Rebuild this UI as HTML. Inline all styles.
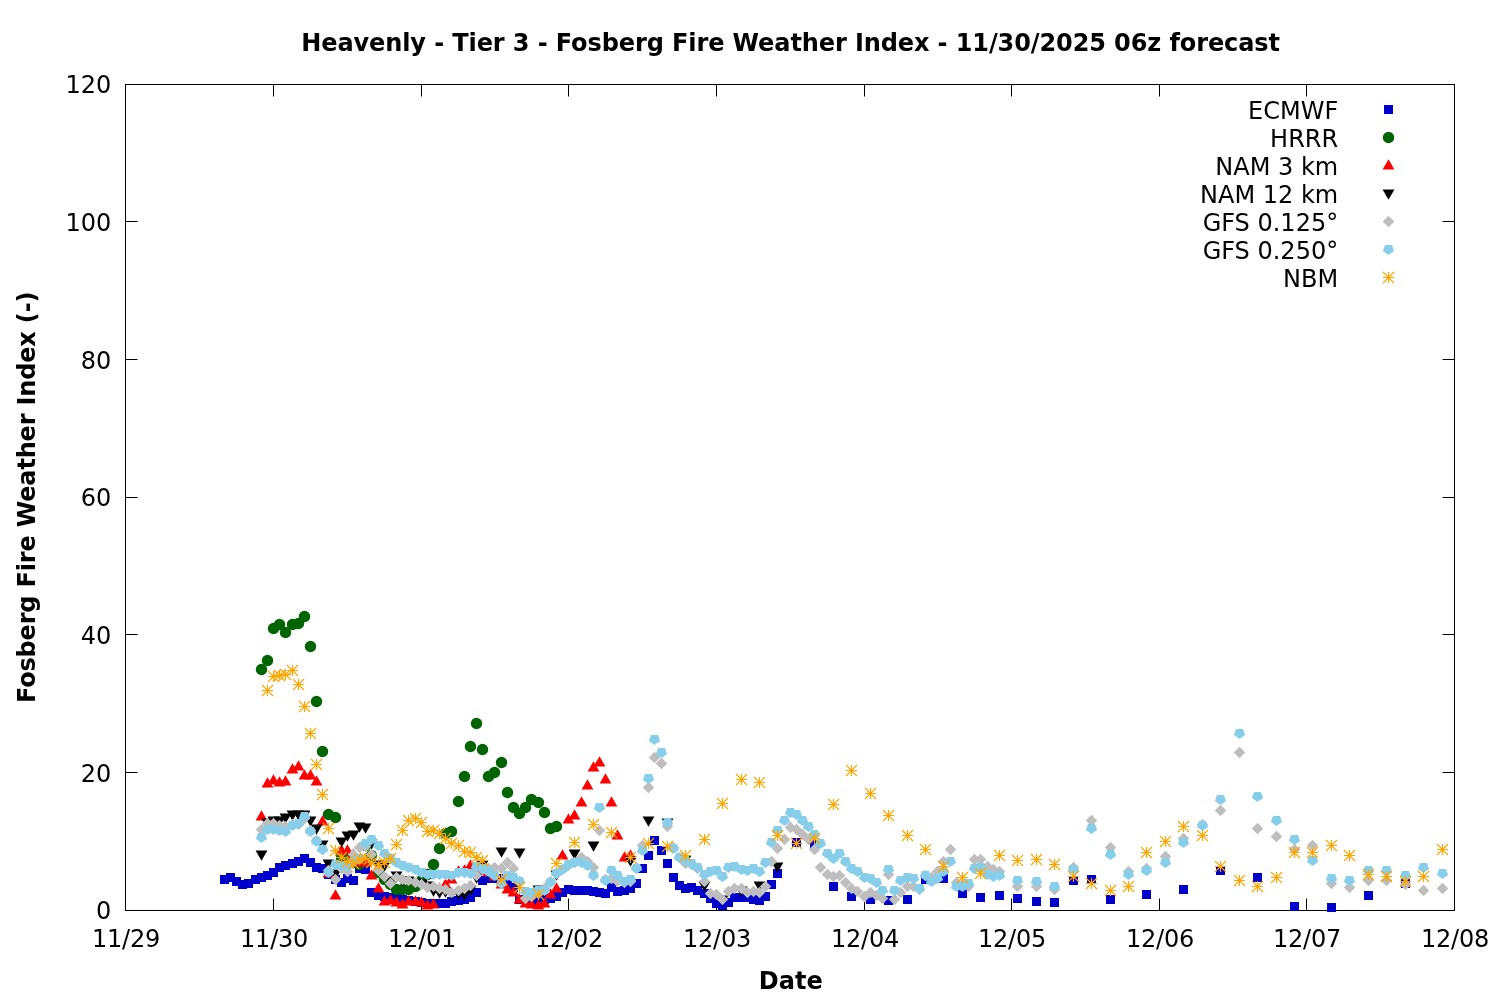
<!DOCTYPE html>
<html lang="en"><head><meta charset="utf-8"><title>Heavenly - Tier 3 - Fosberg Fire Weather Index</title>
<style>html,body{margin:0;padding:0;background:#fff;}svg{display:block;}text{font-family:"DejaVu Sans", "Liberation Sans", sans-serif;fill:#000;}</style>
</head><body>
<svg width="1500" height="1000" viewBox="0 0 1500 1000">
<rect width="1500" height="1000" fill="#fff"/>
<defs>
<rect id="m1" x="-4.5" y="-4.5" width="9" height="9" fill="#0000cd"/>
<circle id="m2" r="5.7" fill="#006400"/>
<path id="m3" d="M0,-6.2 L5.9,4 L-5.9,4 Z" fill="#ff0000"/>
<path id="m4" d="M0,6.2 L5.9,-4 L-5.9,-4 Z" fill="#000"/>
<path id="m5" d="M0,-5.75 L5.75,0 L0,5.75 L-5.75,0 Z" fill="#bebebe"/>
<path id="m6" d="M0,5.6 L5.6,1.6 L3.5,-4.6 L-3.5,-4.6 L-5.6,1.6 Z" fill="#87ceeb"/>
<path id="m7" d="M-5.5,0 H5.5 M0,-5.5 V5.5 M-5.5,-5.5 L5.5,5.5 M-5.5,5.5 L5.5,-5.5" stroke="#ffa500" stroke-width="1.15" fill="none"/>
</defs>
<g stroke="#000" stroke-width="1" fill="none" shape-rendering="auto">
<path d="M125.50,910.50 h12 M1454.50,910.50 h-12 M125.50,772.50 h12 M1454.50,772.50 h-12 M125.50,634.50 h12 M1454.50,634.50 h-12 M125.50,497.50 h12 M1454.50,497.50 h-12 M125.50,359.50 h12 M1454.50,359.50 h-12 M125.50,221.50 h12 M1454.50,221.50 h-12 M125.50,84.50 h12 M1454.50,84.50 h-12 M125.50,910.50 v-12 M125.50,84.50 v12 M273.50,910.50 v-12 M273.50,84.50 v12 M421.50,910.50 v-12 M421.50,84.50 v12 M568.50,910.50 v-12 M568.50,84.50 v12 M716.50,910.50 v-12 M716.50,84.50 v12 M864.50,910.50 v-12 M864.50,84.50 v12 M1011.50,910.50 v-12 M1011.50,84.50 v12 M1159.50,910.50 v-12 M1159.50,84.50 v12 M1306.50,910.50 v-12 M1306.50,84.50 v12 M1454.50,910.50 v-12 M1454.50,84.50 v12"/>
<rect x="125.50" y="84.50" width="1329.00" height="826.00"/>
</g>
<g id="plot">
<g>
<use href="#m1" x="224.5" y="879.5"/><use href="#m1" x="230.5" y="877.5"/><use href="#m1" x="236.5" y="881.5"/><use href="#m1" x="242.5" y="884.5"/><use href="#m1" x="248.5" y="883.5"/><use href="#m1" x="255.5" y="879.5"/><use href="#m1" x="261.5" y="877.5"/><use href="#m1" x="267.5" y="875.5"/><use href="#m1" x="273.5" y="872.5"/><use href="#m1" x="279.5" y="867.5"/><use href="#m1" x="285.5" y="865.5"/><use href="#m1" x="292.5" y="863.5"/><use href="#m1" x="298.5" y="861.5"/><use href="#m1" x="304.5" y="858.5"/><use href="#m1" x="310.5" y="862.5"/><use href="#m1" x="316.5" y="867.5"/><use href="#m1" x="322.5" y="868.5"/><use href="#m1" x="328.5" y="874.5"/><use href="#m1" x="335.5" y="879.5"/><use href="#m1" x="341.5" y="882.5"/><use href="#m1" x="347.5" y="878.5"/><use href="#m1" x="353.5" y="880.5"/><use href="#m1" x="359.5" y="868.5"/><use href="#m1" x="365.5" y="869.5"/><use href="#m1" x="371.5" y="892.5"/><use href="#m1" x="378.5" y="895.5"/><use href="#m1" x="384.5" y="896.5"/><use href="#m1" x="390.5" y="897.5"/><use href="#m1" x="396.5" y="898.5"/><use href="#m1" x="402.5" y="899.5"/><use href="#m1" x="408.5" y="900.5"/><use href="#m1" x="415.5" y="901.5"/><use href="#m1" x="421.5" y="902.5"/><use href="#m1" x="427.5" y="903.5"/><use href="#m1" x="433.5" y="903.5"/><use href="#m1" x="439.5" y="903.5"/><use href="#m1" x="445.5" y="903.5"/><use href="#m1" x="451.5" y="901.5"/><use href="#m1" x="458.5" y="900.5"/><use href="#m1" x="464.5" y="899.5"/><use href="#m1" x="470.5" y="897.5"/><use href="#m1" x="476.5" y="892.5"/><use href="#m1" x="482.5" y="880.5"/><use href="#m1" x="488.5" y="878.5"/><use href="#m1" x="494.5" y="878.5"/><use href="#m1" x="501.5" y="878.5"/><use href="#m1" x="507.5" y="883.5"/><use href="#m1" x="513.5" y="887.5"/><use href="#m1" x="519.5" y="899.5"/><use href="#m1" x="525.5" y="899.5"/><use href="#m1" x="531.5" y="899.5"/><use href="#m1" x="538.5" y="900.5"/><use href="#m1" x="544.5" y="899.5"/><use href="#m1" x="550.5" y="898.5"/><use href="#m1" x="556.5" y="896.5"/><use href="#m1" x="562.5" y="892.5"/><use href="#m1" x="568.5" y="889.5"/><use href="#m1" x="574.5" y="890.5"/><use href="#m1" x="581.5" y="890.5"/><use href="#m1" x="587.5" y="890.5"/><use href="#m1" x="593.5" y="891.5"/><use href="#m1" x="599.5" y="892.5"/><use href="#m1" x="605.5" y="893.5"/><use href="#m1" x="611.5" y="887.5"/><use href="#m1" x="617.5" y="891.5"/><use href="#m1" x="624.5" y="890.5"/><use href="#m1" x="630.5" y="888.5"/><use href="#m1" x="636.5" y="883.5"/><use href="#m1" x="642.5" y="868.5"/><use href="#m1" x="648.5" y="855.5"/><use href="#m1" x="654.5" y="840.5"/><use href="#m1" x="661.5" y="850.5"/><use href="#m1" x="667.5" y="863.5"/><use href="#m1" x="673.5" y="877.5"/><use href="#m1" x="679.5" y="885.5"/><use href="#m1" x="685.5" y="888.5"/><use href="#m1" x="691.5" y="887.5"/><use href="#m1" x="697.5" y="890.5"/><use href="#m1" x="704.5" y="893.5"/><use href="#m1" x="710.5" y="898.5"/><use href="#m1" x="716.5" y="903.5"/><use href="#m1" x="722.5" y="905.5"/><use href="#m1" x="728.5" y="902.5"/><use href="#m1" x="734.5" y="897.5"/><use href="#m1" x="741.5" y="897.5"/><use href="#m1" x="747.5" y="897.5"/><use href="#m1" x="753.5" y="899.5"/><use href="#m1" x="759.5" y="900.5"/><use href="#m1" x="765.5" y="896.5"/><use href="#m1" x="771.5" y="884.5"/><use href="#m1" x="777.5" y="873.5"/><use href="#m1" x="796.5" y="842.5"/><use href="#m1" x="814.5" y="844.5"/><use href="#m1" x="833.5" y="886.5"/><use href="#m1" x="851.5" y="896.5"/><use href="#m1" x="870.5" y="899.5"/><use href="#m1" x="888.5" y="900.5"/><use href="#m1" x="907.5" y="899.5"/><use href="#m1" x="925.5" y="879.5"/><use href="#m1" x="943.5" y="878.5"/><use href="#m1" x="962.5" y="893.5"/><use href="#m1" x="980.5" y="897.5"/><use href="#m1" x="999.5" y="895.5"/><use href="#m1" x="1017.5" y="898.5"/><use href="#m1" x="1036.5" y="901.5"/><use href="#m1" x="1054.5" y="902.5"/><use href="#m1" x="1073.5" y="880.5"/><use href="#m1" x="1091.5" y="879.5"/><use href="#m1" x="1110.5" y="899.5"/><use href="#m1" x="1146.5" y="894.5"/><use href="#m1" x="1183.5" y="889.5"/><use href="#m1" x="1220.5" y="870.5"/><use href="#m1" x="1257.5" y="877.5"/><use href="#m1" x="1294.5" y="906.5"/><use href="#m1" x="1331.5" y="907.5"/><use href="#m1" x="1368.5" y="895.5"/><use href="#m1" x="1405.5" y="883.5"/>
</g>
<g>
<use href="#m2" x="261.5" y="669.5"/><use href="#m2" x="267.5" y="660.5"/><use href="#m2" x="273.5" y="628.5"/><use href="#m2" x="279.5" y="624.5"/><use href="#m2" x="285.5" y="632.5"/><use href="#m2" x="292.5" y="624.5"/><use href="#m2" x="298.5" y="623.5"/><use href="#m2" x="304.5" y="616.5"/><use href="#m2" x="310.5" y="646.5"/><use href="#m2" x="316.5" y="701.5"/><use href="#m2" x="322.5" y="751.5"/><use href="#m2" x="328.5" y="814.5"/><use href="#m2" x="335.5" y="817.5"/><use href="#m2" x="341.5" y="857.5"/><use href="#m2" x="347.5" y="858.5"/><use href="#m2" x="353.5" y="862.5"/><use href="#m2" x="359.5" y="864.5"/><use href="#m2" x="365.5" y="845.5"/><use href="#m2" x="371.5" y="855.5"/><use href="#m2" x="378.5" y="872.5"/><use href="#m2" x="384.5" y="879.5"/><use href="#m2" x="390.5" y="884.5"/><use href="#m2" x="396.5" y="889.5"/><use href="#m2" x="402.5" y="889.5"/><use href="#m2" x="408.5" y="889.5"/><use href="#m2" x="415.5" y="886.5"/><use href="#m2" x="421.5" y="880.5"/><use href="#m2" x="427.5" y="874.5"/><use href="#m2" x="433.5" y="864.5"/><use href="#m2" x="439.5" y="848.5"/><use href="#m2" x="445.5" y="833.5"/><use href="#m2" x="451.5" y="831.5"/><use href="#m2" x="458.5" y="801.5"/><use href="#m2" x="464.5" y="776.5"/><use href="#m2" x="470.5" y="746.5"/><use href="#m2" x="476.5" y="723.5"/><use href="#m2" x="482.5" y="749.5"/><use href="#m2" x="488.5" y="776.5"/><use href="#m2" x="494.5" y="772.5"/><use href="#m2" x="501.5" y="762.5"/><use href="#m2" x="507.5" y="792.5"/><use href="#m2" x="513.5" y="807.5"/><use href="#m2" x="519.5" y="813.5"/><use href="#m2" x="525.5" y="807.5"/><use href="#m2" x="531.5" y="799.5"/><use href="#m2" x="538.5" y="802.5"/><use href="#m2" x="544.5" y="812.5"/><use href="#m2" x="550.5" y="828.5"/><use href="#m2" x="556.5" y="826.5"/>
</g>
<g>
<use href="#m3" x="261.5" y="816.5"/><use href="#m3" x="267.5" y="783.5"/><use href="#m3" x="273.5" y="780.5"/><use href="#m3" x="279.5" y="782.5"/><use href="#m3" x="285.5" y="781.5"/><use href="#m3" x="292.5" y="769.5"/><use href="#m3" x="298.5" y="766.5"/><use href="#m3" x="304.5" y="775.5"/><use href="#m3" x="310.5" y="775.5"/><use href="#m3" x="316.5" y="781.5"/><use href="#m3" x="322.5" y="821.5"/><use href="#m3" x="328.5" y="873.5"/><use href="#m3" x="335.5" y="895.5"/><use href="#m3" x="341.5" y="850.5"/><use href="#m3" x="347.5" y="850.5"/><use href="#m3" x="353.5" y="854.5"/><use href="#m3" x="359.5" y="862.5"/><use href="#m3" x="365.5" y="862.5"/><use href="#m3" x="371.5" y="875.5"/><use href="#m3" x="378.5" y="888.5"/><use href="#m3" x="384.5" y="901.5"/><use href="#m3" x="390.5" y="900.5"/><use href="#m3" x="396.5" y="902.5"/><use href="#m3" x="402.5" y="904.5"/><use href="#m3" x="408.5" y="901.5"/><use href="#m3" x="415.5" y="901.5"/><use href="#m3" x="421.5" y="902.5"/><use href="#m3" x="427.5" y="905.5"/><use href="#m3" x="433.5" y="904.5"/><use href="#m3" x="439.5" y="888.5"/><use href="#m3" x="445.5" y="884.5"/><use href="#m3" x="451.5" y="879.5"/><use href="#m3" x="458.5" y="871.5"/><use href="#m3" x="464.5" y="870.5"/><use href="#m3" x="470.5" y="865.5"/><use href="#m3" x="476.5" y="870.5"/><use href="#m3" x="482.5" y="871.5"/><use href="#m3" x="488.5" y="872.5"/><use href="#m3" x="494.5" y="876.5"/><use href="#m3" x="501.5" y="884.5"/><use href="#m3" x="507.5" y="889.5"/><use href="#m3" x="513.5" y="892.5"/><use href="#m3" x="519.5" y="899.5"/><use href="#m3" x="525.5" y="903.5"/><use href="#m3" x="531.5" y="904.5"/><use href="#m3" x="538.5" y="905.5"/><use href="#m3" x="544.5" y="903.5"/><use href="#m3" x="550.5" y="894.5"/><use href="#m3" x="556.5" y="888.5"/><use href="#m3" x="562.5" y="855.5"/><use href="#m3" x="568.5" y="819.5"/><use href="#m3" x="574.5" y="815.5"/><use href="#m3" x="581.5" y="802.5"/><use href="#m3" x="587.5" y="785.5"/><use href="#m3" x="593.5" y="767.5"/><use href="#m3" x="599.5" y="762.5"/><use href="#m3" x="605.5" y="779.5"/><use href="#m3" x="611.5" y="802.5"/><use href="#m3" x="617.5" y="835.5"/><use href="#m3" x="624.5" y="857.5"/><use href="#m3" x="630.5" y="855.5"/>
</g>
<g>
<use href="#m4" x="261.5" y="854.5"/><use href="#m4" x="267.5" y="822.5"/><use href="#m4" x="273.5" y="820.5"/><use href="#m4" x="279.5" y="820.5"/><use href="#m4" x="285.5" y="817.5"/><use href="#m4" x="292.5" y="814.5"/><use href="#m4" x="298.5" y="814.5"/><use href="#m4" x="304.5" y="814.5"/><use href="#m4" x="310.5" y="820.5"/><use href="#m4" x="316.5" y="828.5"/><use href="#m4" x="322.5" y="844.5"/><use href="#m4" x="328.5" y="863.5"/><use href="#m4" x="335.5" y="873.5"/><use href="#m4" x="341.5" y="841.5"/><use href="#m4" x="347.5" y="835.5"/><use href="#m4" x="353.5" y="834.5"/><use href="#m4" x="359.5" y="826.5"/><use href="#m4" x="365.5" y="827.5"/><use href="#m4" x="371.5" y="843.5"/><use href="#m4" x="378.5" y="864.5"/><use href="#m4" x="384.5" y="865.5"/><use href="#m4" x="390.5" y="880.5"/><use href="#m4" x="396.5" y="875.5"/><use href="#m4" x="402.5" y="880.5"/><use href="#m4" x="408.5" y="880.5"/><use href="#m4" x="415.5" y="882.5"/><use href="#m4" x="421.5" y="883.5"/><use href="#m4" x="427.5" y="885.5"/><use href="#m4" x="433.5" y="890.5"/><use href="#m4" x="439.5" y="892.5"/><use href="#m4" x="445.5" y="891.5"/><use href="#m4" x="451.5" y="893.5"/><use href="#m4" x="458.5" y="893.5"/><use href="#m4" x="464.5" y="894.5"/><use href="#m4" x="470.5" y="889.5"/><use href="#m4" x="476.5" y="877.5"/><use href="#m4" x="482.5" y="864.5"/><use href="#m4" x="501.5" y="851.5"/><use href="#m4" x="519.5" y="852.5"/><use href="#m4" x="538.5" y="889.5"/><use href="#m4" x="556.5" y="874.5"/><use href="#m4" x="574.5" y="853.5"/><use href="#m4" x="593.5" y="845.5"/><use href="#m4" x="630.5" y="860.5"/><use href="#m4" x="648.5" y="820.5"/><use href="#m4" x="667.5" y="822.5"/><use href="#m4" x="685.5" y="859.5"/><use href="#m4" x="704.5" y="885.5"/><use href="#m4" x="722.5" y="899.5"/><use href="#m4" x="741.5" y="890.5"/><use href="#m4" x="759.5" y="885.5"/><use href="#m4" x="777.5" y="866.5"/>
</g>
<g>
<use href="#m5" x="261.5" y="829.5"/><use href="#m5" x="267.5" y="823.5"/><use href="#m5" x="273.5" y="823.5"/><use href="#m5" x="279.5" y="825.5"/><use href="#m5" x="285.5" y="826.5"/><use href="#m5" x="292.5" y="824.5"/><use href="#m5" x="298.5" y="824.5"/><use href="#m5" x="304.5" y="818.5"/><use href="#m5" x="310.5" y="830.5"/><use href="#m5" x="316.5" y="840.5"/><use href="#m5" x="322.5" y="849.5"/><use href="#m5" x="328.5" y="870.5"/><use href="#m5" x="335.5" y="879.5"/><use href="#m5" x="341.5" y="868.5"/><use href="#m5" x="347.5" y="871.5"/><use href="#m5" x="353.5" y="854.5"/><use href="#m5" x="359.5" y="847.5"/><use href="#m5" x="365.5" y="846.5"/><use href="#m5" x="371.5" y="854.5"/><use href="#m5" x="378.5" y="870.5"/><use href="#m5" x="384.5" y="876.5"/><use href="#m5" x="390.5" y="883.5"/><use href="#m5" x="396.5" y="877.5"/><use href="#m5" x="402.5" y="879.5"/><use href="#m5" x="408.5" y="880.5"/><use href="#m5" x="415.5" y="882.5"/><use href="#m5" x="421.5" y="884.5"/><use href="#m5" x="427.5" y="887.5"/><use href="#m5" x="433.5" y="886.5"/><use href="#m5" x="439.5" y="888.5"/><use href="#m5" x="445.5" y="889.5"/><use href="#m5" x="451.5" y="892.5"/><use href="#m5" x="458.5" y="890.5"/><use href="#m5" x="464.5" y="888.5"/><use href="#m5" x="470.5" y="885.5"/><use href="#m5" x="476.5" y="875.5"/><use href="#m5" x="482.5" y="869.5"/><use href="#m5" x="488.5" y="868.5"/><use href="#m5" x="494.5" y="867.5"/><use href="#m5" x="501.5" y="868.5"/><use href="#m5" x="507.5" y="862.5"/><use href="#m5" x="513.5" y="868.5"/><use href="#m5" x="519.5" y="881.5"/><use href="#m5" x="525.5" y="898.5"/><use href="#m5" x="531.5" y="896.5"/><use href="#m5" x="538.5" y="893.5"/><use href="#m5" x="544.5" y="888.5"/><use href="#m5" x="550.5" y="881.5"/><use href="#m5" x="556.5" y="873.5"/><use href="#m5" x="562.5" y="869.5"/><use href="#m5" x="568.5" y="865.5"/><use href="#m5" x="574.5" y="862.5"/><use href="#m5" x="581.5" y="857.5"/><use href="#m5" x="587.5" y="861.5"/><use href="#m5" x="593.5" y="867.5"/><use href="#m5" x="599.5" y="830.5"/><use href="#m5" x="605.5" y="879.5"/><use href="#m5" x="611.5" y="878.5"/><use href="#m5" x="617.5" y="881.5"/><use href="#m5" x="624.5" y="882.5"/><use href="#m5" x="630.5" y="881.5"/><use href="#m5" x="636.5" y="867.5"/><use href="#m5" x="642.5" y="845.5"/><use href="#m5" x="648.5" y="787.5"/><use href="#m5" x="654.5" y="757.5"/><use href="#m5" x="661.5" y="763.5"/><use href="#m5" x="667.5" y="826.5"/><use href="#m5" x="673.5" y="847.5"/><use href="#m5" x="679.5" y="857.5"/><use href="#m5" x="685.5" y="863.5"/><use href="#m5" x="691.5" y="864.5"/><use href="#m5" x="697.5" y="868.5"/><use href="#m5" x="704.5" y="881.5"/><use href="#m5" x="710.5" y="893.5"/><use href="#m5" x="716.5" y="894.5"/><use href="#m5" x="722.5" y="899.5"/><use href="#m5" x="728.5" y="891.5"/><use href="#m5" x="734.5" y="888.5"/><use href="#m5" x="741.5" y="888.5"/><use href="#m5" x="747.5" y="892.5"/><use href="#m5" x="753.5" y="891.5"/><use href="#m5" x="759.5" y="892.5"/><use href="#m5" x="765.5" y="886.5"/><use href="#m5" x="771.5" y="861.5"/><use href="#m5" x="777.5" y="848.5"/><use href="#m5" x="784.5" y="839.5"/><use href="#m5" x="790.5" y="827.5"/><use href="#m5" x="796.5" y="829.5"/><use href="#m5" x="802.5" y="834.5"/><use href="#m5" x="808.5" y="839.5"/><use href="#m5" x="814.5" y="849.5"/><use href="#m5" x="820.5" y="867.5"/><use href="#m5" x="827.5" y="874.5"/><use href="#m5" x="833.5" y="876.5"/><use href="#m5" x="839.5" y="875.5"/><use href="#m5" x="845.5" y="882.5"/><use href="#m5" x="851.5" y="888.5"/><use href="#m5" x="857.5" y="891.5"/><use href="#m5" x="864.5" y="896.5"/><use href="#m5" x="870.5" y="892.5"/><use href="#m5" x="876.5" y="895.5"/><use href="#m5" x="882.5" y="898.5"/><use href="#m5" x="888.5" y="874.5"/><use href="#m5" x="894.5" y="899.5"/><use href="#m5" x="900.5" y="892.5"/><use href="#m5" x="907.5" y="886.5"/><use href="#m5" x="913.5" y="886.5"/><use href="#m5" x="919.5" y="889.5"/><use href="#m5" x="925.5" y="875.5"/><use href="#m5" x="931.5" y="877.5"/><use href="#m5" x="937.5" y="871.5"/><use href="#m5" x="943.5" y="861.5"/><use href="#m5" x="950.5" y="849.5"/><use href="#m5" x="956.5" y="882.5"/><use href="#m5" x="962.5" y="884.5"/><use href="#m5" x="968.5" y="886.5"/><use href="#m5" x="974.5" y="859.5"/><use href="#m5" x="980.5" y="859.5"/><use href="#m5" x="987.5" y="866.5"/><use href="#m5" x="993.5" y="869.5"/><use href="#m5" x="999.5" y="871.5"/><use href="#m5" x="1017.5" y="886.5"/><use href="#m5" x="1036.5" y="886.5"/><use href="#m5" x="1054.5" y="889.5"/><use href="#m5" x="1073.5" y="867.5"/><use href="#m5" x="1091.5" y="820.5"/><use href="#m5" x="1110.5" y="847.5"/><use href="#m5" x="1128.5" y="871.5"/><use href="#m5" x="1146.5" y="868.5"/><use href="#m5" x="1165.5" y="856.5"/><use href="#m5" x="1183.5" y="838.5"/><use href="#m5" x="1202.5" y="824.5"/><use href="#m5" x="1220.5" y="810.5"/><use href="#m5" x="1239.5" y="752.5"/><use href="#m5" x="1257.5" y="828.5"/><use href="#m5" x="1276.5" y="836.5"/><use href="#m5" x="1294.5" y="849.5"/><use href="#m5" x="1312.5" y="845.5"/><use href="#m5" x="1331.5" y="883.5"/><use href="#m5" x="1349.5" y="887.5"/><use href="#m5" x="1368.5" y="880.5"/><use href="#m5" x="1386.5" y="880.5"/><use href="#m5" x="1405.5" y="884.5"/><use href="#m5" x="1423.5" y="890.5"/><use href="#m5" x="1442.5" y="888.5"/>
</g>
<g>
<use href="#m6" x="261.5" y="837.5"/><use href="#m6" x="267.5" y="829.5"/><use href="#m6" x="273.5" y="829.5"/><use href="#m6" x="279.5" y="830.5"/><use href="#m6" x="285.5" y="831.5"/><use href="#m6" x="292.5" y="825.5"/><use href="#m6" x="298.5" y="823.5"/><use href="#m6" x="304.5" y="816.5"/><use href="#m6" x="310.5" y="831.5"/><use href="#m6" x="316.5" y="841.5"/><use href="#m6" x="322.5" y="849.5"/><use href="#m6" x="328.5" y="872.5"/><use href="#m6" x="335.5" y="864.5"/><use href="#m6" x="341.5" y="865.5"/><use href="#m6" x="347.5" y="866.5"/><use href="#m6" x="353.5" y="861.5"/><use href="#m6" x="359.5" y="858.5"/><use href="#m6" x="365.5" y="843.5"/><use href="#m6" x="371.5" y="839.5"/><use href="#m6" x="378.5" y="845.5"/><use href="#m6" x="384.5" y="853.5"/><use href="#m6" x="390.5" y="858.5"/><use href="#m6" x="396.5" y="862.5"/><use href="#m6" x="402.5" y="865.5"/><use href="#m6" x="408.5" y="867.5"/><use href="#m6" x="415.5" y="869.5"/><use href="#m6" x="421.5" y="872.5"/><use href="#m6" x="427.5" y="874.5"/><use href="#m6" x="433.5" y="874.5"/><use href="#m6" x="439.5" y="874.5"/><use href="#m6" x="445.5" y="874.5"/><use href="#m6" x="451.5" y="875.5"/><use href="#m6" x="458.5" y="872.5"/><use href="#m6" x="464.5" y="872.5"/><use href="#m6" x="470.5" y="873.5"/><use href="#m6" x="476.5" y="866.5"/><use href="#m6" x="482.5" y="868.5"/><use href="#m6" x="488.5" y="871.5"/><use href="#m6" x="494.5" y="875.5"/><use href="#m6" x="501.5" y="883.5"/><use href="#m6" x="507.5" y="875.5"/><use href="#m6" x="513.5" y="877.5"/><use href="#m6" x="519.5" y="881.5"/><use href="#m6" x="525.5" y="891.5"/><use href="#m6" x="531.5" y="892.5"/><use href="#m6" x="538.5" y="890.5"/><use href="#m6" x="544.5" y="890.5"/><use href="#m6" x="550.5" y="882.5"/><use href="#m6" x="556.5" y="873.5"/><use href="#m6" x="562.5" y="869.5"/><use href="#m6" x="568.5" y="864.5"/><use href="#m6" x="574.5" y="862.5"/><use href="#m6" x="581.5" y="862.5"/><use href="#m6" x="587.5" y="865.5"/><use href="#m6" x="593.5" y="875.5"/><use href="#m6" x="599.5" y="807.5"/><use href="#m6" x="605.5" y="880.5"/><use href="#m6" x="611.5" y="870.5"/><use href="#m6" x="617.5" y="875.5"/><use href="#m6" x="624.5" y="881.5"/><use href="#m6" x="630.5" y="879.5"/><use href="#m6" x="636.5" y="868.5"/><use href="#m6" x="642.5" y="850.5"/><use href="#m6" x="648.5" y="778.5"/><use href="#m6" x="654.5" y="739.5"/><use href="#m6" x="661.5" y="752.5"/><use href="#m6" x="667.5" y="822.5"/><use href="#m6" x="673.5" y="848.5"/><use href="#m6" x="679.5" y="857.5"/><use href="#m6" x="685.5" y="860.5"/><use href="#m6" x="691.5" y="863.5"/><use href="#m6" x="697.5" y="867.5"/><use href="#m6" x="704.5" y="874.5"/><use href="#m6" x="710.5" y="871.5"/><use href="#m6" x="716.5" y="870.5"/><use href="#m6" x="722.5" y="876.5"/><use href="#m6" x="728.5" y="867.5"/><use href="#m6" x="734.5" y="866.5"/><use href="#m6" x="741.5" y="869.5"/><use href="#m6" x="747.5" y="870.5"/><use href="#m6" x="753.5" y="868.5"/><use href="#m6" x="759.5" y="871.5"/><use href="#m6" x="765.5" y="862.5"/><use href="#m6" x="771.5" y="842.5"/><use href="#m6" x="777.5" y="830.5"/><use href="#m6" x="784.5" y="820.5"/><use href="#m6" x="790.5" y="812.5"/><use href="#m6" x="796.5" y="814.5"/><use href="#m6" x="802.5" y="820.5"/><use href="#m6" x="808.5" y="826.5"/><use href="#m6" x="814.5" y="834.5"/><use href="#m6" x="820.5" y="843.5"/><use href="#m6" x="827.5" y="853.5"/><use href="#m6" x="833.5" y="858.5"/><use href="#m6" x="839.5" y="853.5"/><use href="#m6" x="845.5" y="861.5"/><use href="#m6" x="851.5" y="868.5"/><use href="#m6" x="857.5" y="871.5"/><use href="#m6" x="864.5" y="877.5"/><use href="#m6" x="870.5" y="878.5"/><use href="#m6" x="876.5" y="882.5"/><use href="#m6" x="882.5" y="890.5"/><use href="#m6" x="888.5" y="869.5"/><use href="#m6" x="894.5" y="890.5"/><use href="#m6" x="900.5" y="880.5"/><use href="#m6" x="907.5" y="877.5"/><use href="#m6" x="913.5" y="878.5"/><use href="#m6" x="919.5" y="888.5"/><use href="#m6" x="925.5" y="875.5"/><use href="#m6" x="931.5" y="881.5"/><use href="#m6" x="937.5" y="878.5"/><use href="#m6" x="943.5" y="871.5"/><use href="#m6" x="950.5" y="861.5"/><use href="#m6" x="956.5" y="886.5"/><use href="#m6" x="962.5" y="886.5"/><use href="#m6" x="968.5" y="883.5"/><use href="#m6" x="974.5" y="868.5"/><use href="#m6" x="980.5" y="867.5"/><use href="#m6" x="987.5" y="874.5"/><use href="#m6" x="993.5" y="876.5"/><use href="#m6" x="999.5" y="875.5"/><use href="#m6" x="1017.5" y="880.5"/><use href="#m6" x="1036.5" y="881.5"/><use href="#m6" x="1054.5" y="886.5"/><use href="#m6" x="1073.5" y="869.5"/><use href="#m6" x="1091.5" y="828.5"/><use href="#m6" x="1110.5" y="854.5"/><use href="#m6" x="1128.5" y="874.5"/><use href="#m6" x="1146.5" y="870.5"/><use href="#m6" x="1165.5" y="862.5"/><use href="#m6" x="1183.5" y="842.5"/><use href="#m6" x="1202.5" y="825.5"/><use href="#m6" x="1220.5" y="799.5"/><use href="#m6" x="1239.5" y="733.5"/><use href="#m6" x="1257.5" y="796.5"/><use href="#m6" x="1276.5" y="820.5"/><use href="#m6" x="1294.5" y="839.5"/><use href="#m6" x="1312.5" y="860.5"/><use href="#m6" x="1331.5" y="878.5"/><use href="#m6" x="1349.5" y="880.5"/><use href="#m6" x="1368.5" y="870.5"/><use href="#m6" x="1386.5" y="870.5"/><use href="#m6" x="1405.5" y="875.5"/><use href="#m6" x="1423.5" y="867.5"/><use href="#m6" x="1442.5" y="873.5"/>
</g>
<g>
<use href="#m7" x="267.5" y="690.5"/><use href="#m7" x="273.5" y="676.5"/><use href="#m7" x="279.5" y="675.5"/><use href="#m7" x="285.5" y="674.5"/><use href="#m7" x="292.5" y="670.5"/><use href="#m7" x="298.5" y="684.5"/><use href="#m7" x="304.5" y="706.5"/><use href="#m7" x="310.5" y="733.5"/><use href="#m7" x="316.5" y="764.5"/><use href="#m7" x="322.5" y="794.5"/><use href="#m7" x="328.5" y="828.5"/><use href="#m7" x="335.5" y="850.5"/><use href="#m7" x="341.5" y="857.5"/><use href="#m7" x="347.5" y="861.5"/><use href="#m7" x="353.5" y="863.5"/><use href="#m7" x="359.5" y="859.5"/><use href="#m7" x="365.5" y="858.5"/><use href="#m7" x="371.5" y="862.5"/><use href="#m7" x="378.5" y="864.5"/><use href="#m7" x="384.5" y="862.5"/><use href="#m7" x="390.5" y="858.5"/><use href="#m7" x="396.5" y="844.5"/><use href="#m7" x="402.5" y="830.5"/><use href="#m7" x="408.5" y="820.5"/><use href="#m7" x="415.5" y="818.5"/><use href="#m7" x="421.5" y="822.5"/><use href="#m7" x="427.5" y="831.5"/><use href="#m7" x="433.5" y="830.5"/><use href="#m7" x="439.5" y="833.5"/><use href="#m7" x="445.5" y="838.5"/><use href="#m7" x="451.5" y="843.5"/><use href="#m7" x="458.5" y="845.5"/><use href="#m7" x="464.5" y="851.5"/><use href="#m7" x="470.5" y="852.5"/><use href="#m7" x="476.5" y="857.5"/><use href="#m7" x="482.5" y="860.5"/><use href="#m7" x="501.5" y="879.5"/><use href="#m7" x="519.5" y="887.5"/><use href="#m7" x="538.5" y="894.5"/><use href="#m7" x="556.5" y="863.5"/><use href="#m7" x="574.5" y="842.5"/><use href="#m7" x="593.5" y="824.5"/><use href="#m7" x="611.5" y="832.5"/><use href="#m7" x="630.5" y="857.5"/><use href="#m7" x="648.5" y="843.5"/><use href="#m7" x="667.5" y="846.5"/><use href="#m7" x="685.5" y="855.5"/><use href="#m7" x="704.5" y="839.5"/><use href="#m7" x="722.5" y="803.5"/><use href="#m7" x="741.5" y="779.5"/><use href="#m7" x="759.5" y="782.5"/><use href="#m7" x="777.5" y="835.5"/><use href="#m7" x="796.5" y="843.5"/><use href="#m7" x="814.5" y="838.5"/><use href="#m7" x="833.5" y="804.5"/><use href="#m7" x="851.5" y="770.5"/><use href="#m7" x="870.5" y="793.5"/><use href="#m7" x="888.5" y="815.5"/><use href="#m7" x="907.5" y="835.5"/><use href="#m7" x="925.5" y="849.5"/><use href="#m7" x="943.5" y="866.5"/><use href="#m7" x="962.5" y="877.5"/><use href="#m7" x="980.5" y="873.5"/><use href="#m7" x="999.5" y="855.5"/><use href="#m7" x="1017.5" y="860.5"/><use href="#m7" x="1036.5" y="859.5"/><use href="#m7" x="1054.5" y="864.5"/><use href="#m7" x="1073.5" y="876.5"/><use href="#m7" x="1091.5" y="883.5"/><use href="#m7" x="1110.5" y="890.5"/><use href="#m7" x="1128.5" y="886.5"/><use href="#m7" x="1146.5" y="852.5"/><use href="#m7" x="1165.5" y="841.5"/><use href="#m7" x="1183.5" y="826.5"/><use href="#m7" x="1202.5" y="835.5"/><use href="#m7" x="1220.5" y="866.5"/><use href="#m7" x="1239.5" y="880.5"/><use href="#m7" x="1257.5" y="886.5"/><use href="#m7" x="1276.5" y="877.5"/><use href="#m7" x="1294.5" y="852.5"/><use href="#m7" x="1312.5" y="852.5"/><use href="#m7" x="1331.5" y="845.5"/><use href="#m7" x="1349.5" y="855.5"/><use href="#m7" x="1368.5" y="874.5"/><use href="#m7" x="1386.5" y="876.5"/><use href="#m7" x="1405.5" y="881.5"/><use href="#m7" x="1423.5" y="876.5"/><use href="#m7" x="1442.5" y="849.5"/>
</g>
</g>
<g font-size="24" text-anchor="end">
<text x="111.4" y="919.0">0</text>
<text x="111.4" y="782.0">20</text>
<text x="111.4" y="644.0">40</text>
<text x="111.4" y="506.0">60</text>
<text x="111.4" y="369.0">80</text>
<text x="111.4" y="231.0">100</text>
<text x="111.4" y="93.0">120</text>
</g>
<g font-size="24" text-anchor="middle" letter-spacing="-0.22">
<text x="126.0" y="947">11/29</text>
<text x="274.1" y="947">11/30</text>
<text x="422.1" y="947">12/01</text>
<text x="569.0" y="947">12/02</text>
<text x="717.0" y="947">12/03</text>
<text x="865.0" y="947">12/04</text>
<text x="1012.0" y="947">12/05</text>
<text x="1160.0" y="947">12/06</text>
<text x="1307.0" y="947">12/07</text>
<text x="1455.0" y="947">12/08</text>
</g>
<text x="301.24" y="51" font-size="24" font-weight="bold" text-anchor="start" letter-spacing="-0.1">Heavenly - Tier 3 - Fosberg Fire Weather Index - 11/30/2025 06z forecast</text>
<text x="790.8" y="989" font-size="24" font-weight="bold" text-anchor="middle">Date</text>
<text transform="translate(35.2,703.1) rotate(-90)" font-size="24" font-weight="bold" text-anchor="start" letter-spacing="-0.17">Fosberg Fire Weather Index (-)</text>
<g font-size="24" text-anchor="end">
<text x="1338.2" y="118.5">ECMWF</text>
<use href="#m1" x="1388.5" y="109.5"/>
<text x="1338.2" y="146.5">HRRR</text>
<use href="#m2" x="1388.5" y="137.5"/>
<text x="1338.2" y="174.5">NAM 3 km</text>
<use href="#m3" x="1388.5" y="165.5"/>
<text x="1338.2" y="202.5">NAM 12 km</text>
<use href="#m4" x="1388.5" y="193.5"/>
<text x="1338.2" y="230.5">GFS 0.125°</text>
<use href="#m5" x="1388.5" y="221.5"/>
<text x="1338.2" y="258.5">GFS 0.250°</text>
<use href="#m6" x="1388.5" y="249.5"/>
<text x="1338.2" y="286.5">NBM</text>
<use href="#m7" x="1388.5" y="277.5"/>
</g>
</svg>
</body></html>
